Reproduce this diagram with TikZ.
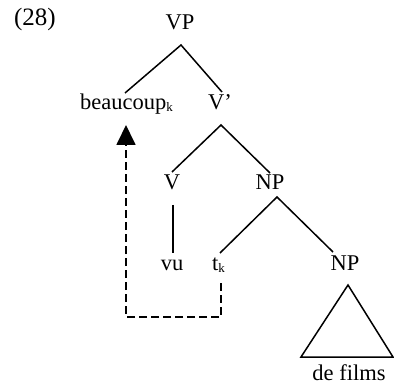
\documentclass[tikz,border=0pt]{standalone}
\usepackage{fontspec}
\setmainfont{Liberation Serif}
\usetikzlibrary{arrows.meta}
\newcommand{\subk}{\raisebox{-2pt}{\fontsize{13}{13}\selectfont k}}
\begin{document}
\begin{tikzpicture}[x=1pt,y=-1pt,
  lbl/.style={inner sep=0pt,font=\fontsize{22.5}{26}\selectfont},
  branch/.style={line width=1.5pt},
  move/.style={line width=1.8pt,dash pattern=on 8pt off 4pt,-{Triangle[width=19pt,length=20pt]}}]
\useasboundingbox (0,0) rectangle (394,385);
\node[lbl,anchor=base,font=\fontsize{25}{28}\selectfont] (num) at (35,26) {(28)};
\node[lbl,anchor=base] (VP) at (180,30) {VP};
\node[lbl,anchor=base west] (bc) at (80,110) {beaucoup\subk};
\node[lbl,anchor=base west] (Vb) at (208,110) {V’};
\node[lbl,anchor=base] (V) at (172,190) {V};
\node[lbl,anchor=base] (NPa) at (270,190) {NP};
\node[lbl,anchor=base] (vu) at (172,270) {vu};
\node[lbl,anchor=base west] (t) at (212,270) {t\subk};
\node[lbl,anchor=base] (NPb) at (345,270) {NP};
\node[lbl,anchor=base] (films) at (349,380) {de films};
% tree branches
\draw[branch] ([xshift=45pt,yshift=17pt]bc.base west) -- ([xshift=1pt,yshift=-15pt]VP.base) -- ([xshift=14pt,yshift=18pt]Vb.base west);
\draw[branch] ([yshift=18pt]V.base) -- ([xshift=13pt,yshift=-15pt]Vb.base west) -- ([yshift=17pt]NPa.base);
\draw[branch] ([xshift=1pt,yshift=-15pt]V.base) -- ([xshift=1pt,yshift=17pt]vu.base);
\draw[branch] ([xshift=8pt,yshift=17pt]t.base west) -- ([xshift=7pt,yshift=-7pt]NPa.base) -- ([xshift=-12pt,yshift=18pt]NPb.base);
\draw[branch,line join=miter] ([xshift=3pt,yshift=-15pt]NPb.base) -- ([xshift=-48pt,yshift=23pt]films.base) -- ([xshift=44pt,yshift=23pt]films.base) -- cycle;
% movement arrow
\coordinate (dstart) at ([xshift=9pt,yshift=-13pt]t.base west);
\coordinate (dtip) at ([xshift=46pt,yshift=-15pt]bc.base west);
\draw[move] (dstart) -- ++(0,34) -| (dtip);
\end{tikzpicture}
\end{document}
